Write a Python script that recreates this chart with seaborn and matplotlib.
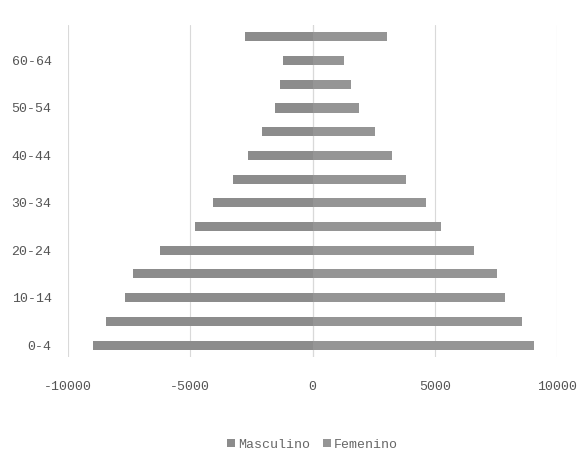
import pandas as pd
import matplotlib
matplotlib.use("Agg")
import matplotlib.pyplot as plt
import seaborn as sns

# age groups, bottom to top
edades = ['0-4', '5-9', '10-14', '15-19', '20-24', '25-29', '30-34', '35-39',
          '40-44', '45-49', '50-54', '55-59', '60-64', '65+']
masculino = [8980, 8450, 7670, 7350, 6240, 4820, 4080, 3260,
             2650, 2080, 1550, 1350, 1220, 2780]
femenino = [9060, 8570, 7880, 7550, 6610, 5260, 4650, 3830,
            3260, 2570, 1920, 1590, 1300, 3050]

df = pd.DataFrame({
    'Edad': edades * 2,
    'Poblacion': [-v for v in masculino] + femenino,
    'Sexo': ['Masculino'] * len(edades) + ['Femenino'] * len(edades),
})

sns.set_style('white')
plt.rcParams['font.family'] = ['Liberation Mono', 'DejaVu Sans Mono']

fig = plt.figure(figsize=(5.88, 4.63), dpi=100)
ax = fig.add_axes([0.116, 0.229, 0.831, 0.717])

sns.barplot(data=df, x='Poblacion', y='Edad', hue='Sexo', order=edades[::-1],
            orient='h', dodge=False, width=0.38, palette=['#8c8c8c', '#959595'],
            edgecolor='none', ax=ax, legend=True)

ax.set_xlim(-10000, 10000)
ax.set_xticks([-10000, -5000, 0, 5000, 10000])
ax.set_xticklabels(['-10000', '-5000', '0', '5000', '10000'])
ax.grid(axis='x', color='#d9d9d9', linewidth=0.8)
ax.set_axisbelow(True)
ax.axvline(0, color='#bdbdbd', linewidth=0.8, zorder=0)

labels = [e if i % 2 == 0 else '' for i, e in enumerate(edades)][::-1]
ax.set_yticks(range(len(edades)))
ax.set_yticklabels(labels)
ax.tick_params(axis='y', length=0, pad=12, labelsize=9.5, labelcolor='#555555')
ax.tick_params(axis='x', length=0, pad=17, labelsize=9.5, labelcolor='#555555')
ax.set_xlabel('')
ax.set_ylabel('')
for s in ax.spines.values():
    s.set_visible(False)

ax.legend(loc='upper center', bbox_to_anchor=(0.5, -0.21), ncol=2, frameon=False,
          handlelength=0.6, handleheight=0.6, handletextpad=0.2, columnspacing=1.0,
          fontsize=9.5, labelcolor='#666666')

fig.savefig('out.png', dpi=100)
